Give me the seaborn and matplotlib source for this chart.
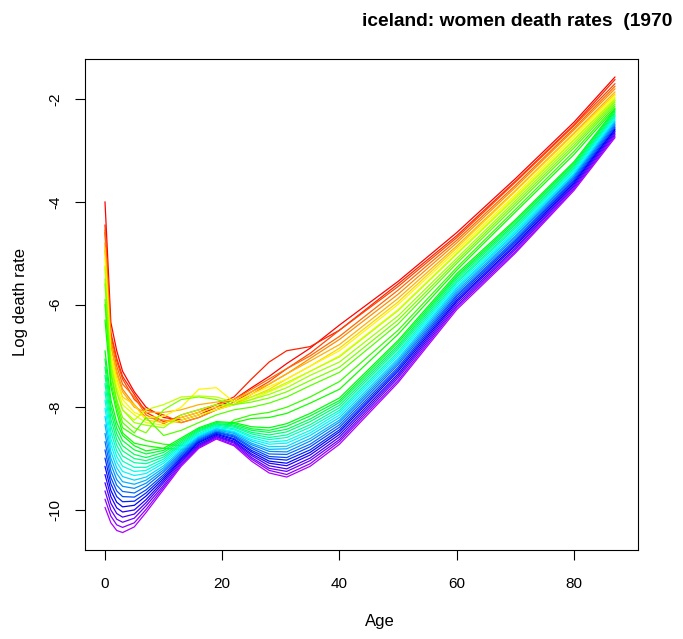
import matplotlib
matplotlib.use("Agg")
import matplotlib.pyplot as plt
from matplotlib.colors import hsv_to_rgb
import pandas as pd
import seaborn as sns

# --- data: log death rates, rows = ages, columns = years ---
ages = [0, 1, 2, 3, 5, 7, 10, 13, 16, 19, 22, 25, 28, 31, 35, 40, 50, 60, 70, 80, 87]

obs_years = [1970, 1972, 1975, 1977, 1980, 1982, 1985, 1987, 1990, 1992, 1995, 1997, 2000, 2003, 2006]
fc_years = [2008, 2011, 2013, 2016, 2018, 2021, 2023, 2026, 2028, 2031,
            2033, 2036, 2038, 2041, 2043, 2046, 2048, 2051, 2053, 2056]

# observed (noisy) curves
obs_rates = [
    [-4.00, -4.45, -4.60, -4.55, -4.80, -4.95, -4.90, -5.10, -5.30, -5.25, -5.50, -5.60, -5.90, -6.00, -6.30],
    [-6.35, -6.55, -6.60, -6.70, -6.80, -6.75, -6.95, -7.00, -7.05, -7.20, -7.15, -7.30, -7.35, -7.50, -7.60],
    [-6.90, -7.05, -7.10, -7.20, -7.30, -7.35, -7.45, -7.50, -7.60, -7.70, -7.70, -7.85, -7.90, -8.00, -8.10],
    [-7.30, -7.40, -7.45, -7.55, -7.65, -7.70, -7.80, -7.85, -7.95, -8.05, -8.05, -8.20, -8.30, -8.40, -8.50],
    [-7.70, -7.75, -7.85, -7.80, -7.95, -8.00, -7.95, -8.10, -8.15, -8.25, -8.30, -8.40, -8.50, -8.55, -8.70],
    [-8.00, -8.10, -8.05, -8.15, -8.20, -8.10, -8.25, -8.20, -8.30, -8.05, -8.35, -8.50, -8.20, -8.65, -8.75],
    [-8.20, -8.28, -8.15, -8.32, -8.25, -8.10, -8.30, -8.18, -8.35, -7.95, -8.40, -8.05, -8.55, -8.72, -8.80],
    [-8.25, -8.20, -8.30, -8.15, -8.30, -8.05, -8.20, -8.00, -8.25, -7.80, -8.15, -7.85, -8.45, -8.75, -8.82],
    [-8.15, -8.10, -8.20, -8.05, -8.20, -7.95, -8.10, -7.65, -8.15, -7.78, -8.05, -7.80, -8.30, -8.70, -8.78],
    [-8.00, -7.95, -8.05, -7.95, -8.05, -7.90, -8.00, -7.62, -8.05, -7.80, -7.95, -7.85, -8.15, -8.50, -8.55],
    [-7.85, -7.80, -7.90, -7.85, -7.95, -7.85, -7.95, -7.90, -7.95, -7.90, -7.95, -7.95, -8.05, -8.25, -8.30],
    [-7.62, -7.45, -7.70, -7.65, -7.75, -7.70, -7.80, -7.75, -7.85, -7.80, -7.85, -7.90, -8.00, -8.15, -8.22],
    [-7.40, -7.12, -7.50, -7.45, -7.55, -7.55, -7.65, -7.60, -7.70, -7.68, -7.75, -7.82, -7.92, -8.10, -8.20],
    [-7.15, -6.90, -7.25, -7.25, -7.35, -7.35, -7.45, -7.45, -7.55, -7.52, -7.62, -7.70, -7.80, -8.00, -8.12],
    [-6.85, -6.82, -6.95, -7.00, -7.05, -7.10, -7.20, -7.20, -7.30, -7.30, -7.38, -7.48, -7.58, -7.80, -7.92],
    [-6.40, -6.50, -6.50, -6.62, -6.68, -6.78, -6.85, -6.90, -7.00, -7.02, -7.12, -7.22, -7.32, -7.50, -7.65],
    [-5.55, -5.60, -5.65, -5.72, -5.80, -5.88, -5.95, -6.00, -6.10, -6.12, -6.22, -6.30, -6.38, -6.50, -6.58],
    [-4.60, -4.66, -4.70, -4.75, -4.80, -4.86, -4.90, -4.95, -5.00, -5.02, -5.10, -5.15, -5.20, -5.28, -5.33],
    [-3.55, -3.60, -3.62, -3.68, -3.72, -3.78, -3.80, -3.86, -3.90, -3.93, -3.98, -4.03, -4.08, -4.15, -4.20],
    [-2.45, -2.50, -2.52, -2.57, -2.60, -2.66, -2.68, -2.73, -2.78, -2.80, -2.85, -2.90, -2.95, -3.02, -3.08],
    [-1.57, -1.62, -1.70, -1.75, -1.80, -1.86, -1.90, -1.93, -1.97, -2.00, -2.03, -2.06, -2.10, -2.14, -2.18],
]

# forecast (smooth) curves
fc_rates = [
    [-6.90, -7.06, -7.22, -7.38, -7.54, -7.70, -7.86, -8.02, -8.18, -8.34, -8.51, -8.67, -8.83, -8.99, -9.15, -9.31, -9.47, -9.63, -9.79, -9.95],
    [-7.85, -7.98, -8.10, -8.23, -8.36, -8.48, -8.61, -8.73, -8.86, -8.99, -9.11, -9.24, -9.37, -9.49, -9.62, -9.74, -9.87, -10.00, -10.12, -10.25],
    [-8.30, -8.41, -8.52, -8.63, -8.74, -8.85, -8.96, -9.07, -9.18, -9.29, -9.41, -9.52, -9.63, -9.74, -9.85, -9.96, -10.07, -10.18, -10.29, -10.40],
    [-8.55, -8.65, -8.75, -8.85, -8.95, -9.05, -9.15, -9.25, -9.35, -9.45, -9.54, -9.64, -9.74, -9.84, -9.94, -10.04, -10.14, -10.24, -10.34, -10.44],
    [-8.75, -8.83, -8.92, -9.00, -9.08, -9.17, -9.25, -9.33, -9.42, -9.50, -9.58, -9.67, -9.75, -9.83, -9.91, -10.00, -10.08, -10.16, -10.25, -10.33],
    [-8.85, -8.91, -8.98, -9.04, -9.10, -9.17, -9.23, -9.29, -9.36, -9.42, -9.48, -9.54, -9.61, -9.67, -9.73, -9.80, -9.86, -9.92, -9.99, -10.05],
    [-8.80, -8.84, -8.88, -8.93, -8.97, -9.01, -9.05, -9.09, -9.14, -9.18, -9.22, -9.26, -9.31, -9.35, -9.39, -9.43, -9.47, -9.52, -9.56, -9.60],
    [-8.60, -8.63, -8.66, -8.69, -8.72, -8.74, -8.77, -8.80, -8.83, -8.86, -8.89, -8.92, -8.95, -8.98, -9.01, -9.03, -9.06, -9.09, -9.12, -9.15],
    [-8.40, -8.42, -8.44, -8.46, -8.48, -8.51, -8.53, -8.55, -8.57, -8.59, -8.61, -8.63, -8.65, -8.67, -8.69, -8.72, -8.74, -8.76, -8.78, -8.80],
    [-8.28, -8.30, -8.32, -8.33, -8.35, -8.37, -8.39, -8.41, -8.42, -8.44, -8.46, -8.48, -8.49, -8.51, -8.53, -8.55, -8.57, -8.58, -8.60, -8.62],
    [-8.30, -8.32, -8.35, -8.37, -8.39, -8.42, -8.44, -8.47, -8.49, -8.51, -8.54, -8.56, -8.58, -8.61, -8.63, -8.66, -8.68, -8.70, -8.73, -8.75],
    [-8.38, -8.42, -8.45, -8.49, -8.52, -8.56, -8.59, -8.63, -8.66, -8.70, -8.73, -8.77, -8.80, -8.84, -8.87, -8.91, -8.94, -8.98, -9.01, -9.05],
    [-8.40, -8.45, -8.49, -8.54, -8.59, -8.63, -8.68, -8.72, -8.77, -8.82, -8.86, -8.91, -8.96, -9.00, -9.05, -9.09, -9.14, -9.19, -9.23, -9.28],
    [-8.32, -8.37, -8.43, -8.48, -8.54, -8.59, -8.65, -8.70, -8.76, -8.81, -8.87, -8.92, -8.98, -9.03, -9.09, -9.14, -9.20, -9.25, -9.31, -9.36],
    [-8.12, -8.17, -8.23, -8.28, -8.34, -8.39, -8.45, -8.50, -8.55, -8.61, -8.66, -8.72, -8.77, -8.83, -8.88, -8.93, -8.99, -9.04, -9.10, -9.15],
    [-7.82, -7.87, -7.91, -7.96, -8.01, -8.06, -8.10, -8.15, -8.20, -8.25, -8.29, -8.34, -8.39, -8.44, -8.48, -8.53, -8.58, -8.63, -8.67, -8.72],
    [-6.70, -6.74, -6.79, -6.83, -6.87, -6.92, -6.96, -7.00, -7.05, -7.09, -7.13, -7.17, -7.22, -7.26, -7.30, -7.35, -7.39, -7.43, -7.48, -7.52],
    [-5.40, -5.44, -5.47, -5.51, -5.55, -5.58, -5.62, -5.66, -5.69, -5.73, -5.77, -5.81, -5.84, -5.88, -5.92, -5.95, -5.99, -6.03, -6.06, -6.10],
    [-4.35, -4.38, -4.42, -4.45, -4.49, -4.52, -4.56, -4.59, -4.62, -4.66, -4.69, -4.73, -4.76, -4.79, -4.83, -4.86, -4.90, -4.93, -4.97, -5.00],
    [-3.22, -3.25, -3.28, -3.31, -3.34, -3.37, -3.40, -3.43, -3.46, -3.49, -3.51, -3.54, -3.57, -3.60, -3.63, -3.66, -3.69, -3.72, -3.75, -3.78],
    [-2.20, -2.23, -2.26, -2.29, -2.32, -2.34, -2.37, -2.40, -2.43, -2.46, -2.49, -2.52, -2.55, -2.58, -2.60, -2.63, -2.66, -2.69, -2.72, -2.75],
]

x_ticks = [0, 20, 40, 60, 80]
y_ticks = [-10, -8, -6, -4, -2]

# --- long format ---
rows = []
for i, age in enumerate(ages):
    for j, yr in enumerate(obs_years):
        rows.append((yr, age, obs_rates[i][j]))
    for j, yr in enumerate(fc_years):
        rows.append((yr, age, fc_rates[i][j]))
df = pd.DataFrame(rows, columns=["year", "age", "log_rate"]).sort_values(["year", "age"])

all_years = obs_years + fc_years
n = len(all_years)
# rainbow palette, red (first year) to violet (last year)
palette = {yr: hsv_to_rgb((0.78 * k / (n - 1), 1.0, 1.0)) for k, yr in enumerate(all_years)}

sns.set_theme(style="white")
plt.rcParams["font.family"] = ["Liberation Sans", "DejaVu Sans"]

fig = plt.figure(figsize=(6.83, 6.39), dpi=100)
ax = fig.add_axes([85 / 683, 89 / 639, 553 / 683, 491 / 639])

sns.lineplot(data=df, x="age", y="log_rate", hue="year", hue_order=all_years,
             palette=palette, estimator=None, legend=False, linewidth=0.9, ax=ax)

ax.set_xlim(-3.41, 90.92)
ax.set_ylim(-10.78, -1.22)
ax.set_xticks(x_ticks)
ax.set_yticks(y_ticks)
ax.set_xticklabels([str(t) for t in x_ticks])
ax.set_yticklabels([str(t) for t in y_ticks], rotation=90, va="center")

for sp in ax.spines.values():
    sp.set_color("black")
    sp.set_linewidth(0.8)

ax.tick_params(axis="both", direction="out", length=7.5, width=0.8, color="black",
               labelsize=11, labelcolor="black")
ax.tick_params(axis="x", pad=12, bottom=True)
ax.tick_params(axis="y", pad=8.5, left=True)

ax.set_xlabel("Age", fontsize=12, color="black")
ax.set_ylabel("Log death rate", fontsize=12, color="black")
ax.xaxis.set_label_coords((380 - 85) / 553, (550 - 614) / 491)
ax.yaxis.set_label_coords((28 - 85) / 553, (550 - 302) / 491)

fig.text(362 / 683, 1 - 26 / 639, "iceland: women death rates  (1970",
         fontsize=13.8, fontweight="bold", ha="left", va="baseline", color="black")

fig.savefig("out.png", dpi=100, facecolor="white")
